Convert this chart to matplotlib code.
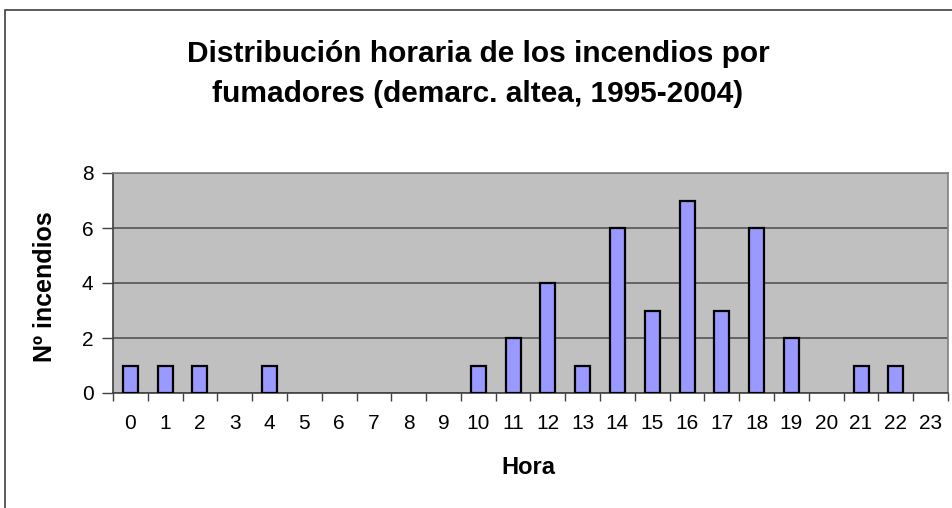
import matplotlib
matplotlib.use("Agg")
import matplotlib.pyplot as plt
from matplotlib.patches import Rectangle
from matplotlib.ticker import FixedLocator
import numpy as np

plt.rcParams["font.family"] = ["Liberation Sans", "DejaVu Sans"]

hours = list(range(24))
hour_labels = [str(h) for h in hours]
fires = [1, 1, 1, 0, 1, 0, 0, 0, 0, 0, 1, 2, 4, 1, 6, 3, 7, 3, 6, 2, 0, 1, 1, 0]
yticks = [0, 2, 4, 6, 8]

title_lines = ["Distribución horaria de los incendios por",
               "fumadores (demarc. altea, 1995-2004)"]

W, H = 953, 508
fig = plt.figure(figsize=(W / 100, H / 100), dpi=100)

# chart frame (cut off at right and bottom in the original)
fig.patches.append(Rectangle((5 / W, -0.2), 2.0, 1.2 - 10 / H,
                             transform=fig.transFigure, fill=False,
                             edgecolor="#404040", lw=1.2, zorder=0))

ax = fig.add_axes([113 / W, 1 - 393 / H, 835 / W, 220 / H])
ax.set_facecolor("#C0C0C0")

x = np.arange(len(hours))
# zero-height bars are not drawn in the original, so no outline for them
edge_w = [1.6 if v > 0 else 0 for v in fires]
ax.bar(x, fires, width=0.43, color="#9999FF", edgecolor="black", lw=edge_w, zorder=3)

ax.set_xlim(-0.5, 23.5)
ax.set_ylim(0, 8)
ax.set_yticks(yticks)
ax.yaxis.grid(True, color="#555555", lw=1.2, zorder=1)
ax.set_axisbelow(True)

ax.set_xticks(x)
ax.set_xticklabels(hour_labels, fontsize=15)
ax.xaxis.set_minor_locator(FixedLocator(np.arange(-0.5, 24, 1)))
ax.tick_params(axis="x", which="major", length=0, pad=15)
ax.tick_params(axis="x", which="minor", length=6, width=1, color="#404040")
ax.tick_params(axis="y", labelsize=15, length=8, width=1, color="#404040", pad=6)

for side in ["top", "right"]:
    ax.spines[side].set_color("#808080")
    ax.spines[side].set_linewidth(1.2)
for side in ["left", "bottom"]:
    ax.spines[side].set_color("#404040")
    ax.spines[side].set_linewidth(1.2)

fig.text(478 / W, 1 - 62 / H, title_lines[0], ha="center", va="baseline",
         fontsize=21.5, fontweight="bold")
fig.text(478 / W, 1 - 102 / H, title_lines[1], ha="center", va="baseline",
         fontsize=21.5, fontweight="bold")
fig.text(45 / W, 1 - 287 / H, "Nº incendios", rotation=90, ha="center",
         va="center", fontsize=18, fontweight="bold")
fig.text(528 / W, 1 - 468 / H, "Hora", ha="center", va="center",
         fontsize=17, fontweight="bold")

fig.savefig("out.png", dpi=100)
